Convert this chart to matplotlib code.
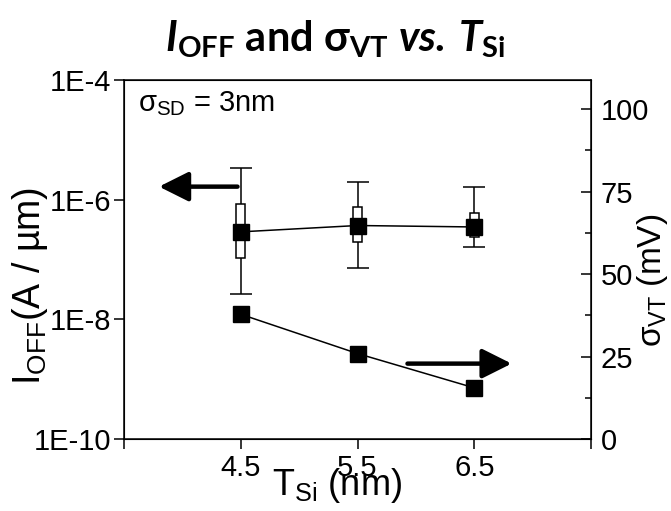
import numpy as np
import matplotlib
matplotlib.use("Agg")
import matplotlib.pyplot as plt

plt.rcParams['font.family'] = 'Liberation Sans'
plt.rcParams['mathtext.fontset'] = 'custom'
plt.rcParams['mathtext.rm'] = 'Liberation Sans'
plt.rcParams['mathtext.it'] = 'Liberation Sans:italic'
plt.rcParams['mathtext.bf'] = 'Lato:bold'
plt.rcParams['mathtext.bfit'] = 'Lato:bold:italic'

# data
tsi = [4.5, 5.5, 6.5]
ioff_mid = [2.9e-7, 3.7e-7, 3.5e-7]
ioff_low = [2.7e-8, 7.1e-8, 1.6e-7]
ioff_high = [3.4e-6, 2.0e-6, 1.65e-6]
ioff_q1 = [1.07e-7, 2.0e-7, 2.4e-7]
ioff_q3 = [8.5e-7, 7.6e-7, 5.9e-7]
sigma_vt = [37.8, 25.9, 15.5]

left_ticks = [1e-10, 1e-8, 1e-6, 1e-4]
left_labels = ['1E-10', '1E-8', '1E-6', '1E-4']
right_ticks = [0, 25, 50, 75, 100]
x_ticks = [3.5, 4.5, 5.5, 6.5, 7.5]
x_labels = ['', '4.5', '5.5', '6.5', '']

fig = plt.figure(figsize=(6.71, 5.11), dpi=100)
ax = fig.add_axes([0.1848, 0.1409, 0.696, 0.7025])

x = np.array(tsi)
mid = np.array(ioff_mid)
err = [mid - np.array(ioff_low), np.array(ioff_high) - mid]
ax.errorbar(x, mid, yerr=err, fmt='none', ecolor='k', elinewidth=1.1,
            capsize=8, capthick=1.1, zorder=2)
ax.bar(x, np.array(ioff_q3) - np.array(ioff_q1), bottom=ioff_q1, width=0.075,
       color='white', edgecolor='k', linewidth=1.1, zorder=3)
ax.plot(x, mid, color='k', lw=1.1, marker='s', markersize=11, zorder=4)

ax.set_yscale('log')
ax.set_ylim(1e-10, 1e-4)
ax.set_xlim(3.5, 7.5)
ax.set_yticks(left_ticks)
ax.set_yticklabels(left_labels)
ax.yaxis.set_minor_locator(matplotlib.ticker.NullLocator())
ax.set_xticks(x_ticks)
ax.set_xticklabels(x_labels)
ax.tick_params(axis='both', direction='out', length=7, width=1.1,
               labelsize=21, pad=2, top=False)
ax.tick_params(axis='x', pad=4)
for s in ax.spines.values():
    s.set_linewidth(1.1)

ax2 = ax.twinx()
ax2.plot(x, sigma_vt, color='k', lw=1.1, marker='s', markersize=11)
ax2.set_ylim(0, 108.8)
ax2.set_yticks(right_ticks)
ax2.set_yticks([12.5, 37.5, 62.5, 87.5], minor=True)
ax2.tick_params(axis='y', which='major', direction='in', length=7,
                width=1.1, labelsize=21, pad=7)
ax2.tick_params(axis='y', which='minor', direction='in', length=4,
                width=1.1)

ax.annotate('', xy=(0.075, 0.703), xytext=(0.243, 0.703),
            xycoords='axes fraction',
            arrowprops=dict(arrowstyle='-|>,head_length=0.9,head_width=0.45',
                            lw=3.2, color='k', mutation_scale=20,
                            shrinkA=0, shrinkB=0))
ax.annotate('', xy=(0.83, 0.21), xytext=(0.607, 0.21),
            xycoords='axes fraction',
            arrowprops=dict(arrowstyle='-|>,head_length=0.9,head_width=0.45',
                            lw=3.2, color='k', mutation_scale=20,
                            shrinkA=0, shrinkB=0))

ax.text(0.03, 0.913, r'σ$_{\mathrm{SD}}$ = 3nm', transform=ax.transAxes,
        fontsize=21, va='baseline', ha='left')

fig.text(0.5, 0.9,
         r'$\mathbfit{I}_{\mathbf{OFF}}$ and σ$_{\mathbf{VT}}$ '
         r'$\mathbfit{vs.}\,\mathbfit{T}_{\mathbf{Si}}$',
         fontsize=30, family=['Lato', 'DejaVu Sans'], fontweight='bold',
         ha='center', va='baseline')

fig.text(0.044, 0.44, r'I$_{\mathrm{OFF}}$(A / µm)', rotation=90,
         fontsize=27, ha='center', va='center')
fig.text(0.502, 0.031, r'T$_{\mathrm{Si}}$ (nm)', fontsize=26,
         ha='center', va='baseline')
fig.text(0.972, 0.452, r'σ$_{\mathrm{VT}}$ (mV)', rotation=90,
         fontsize=24, ha='center', va='center')

fig.savefig('out.png', dpi=100)
